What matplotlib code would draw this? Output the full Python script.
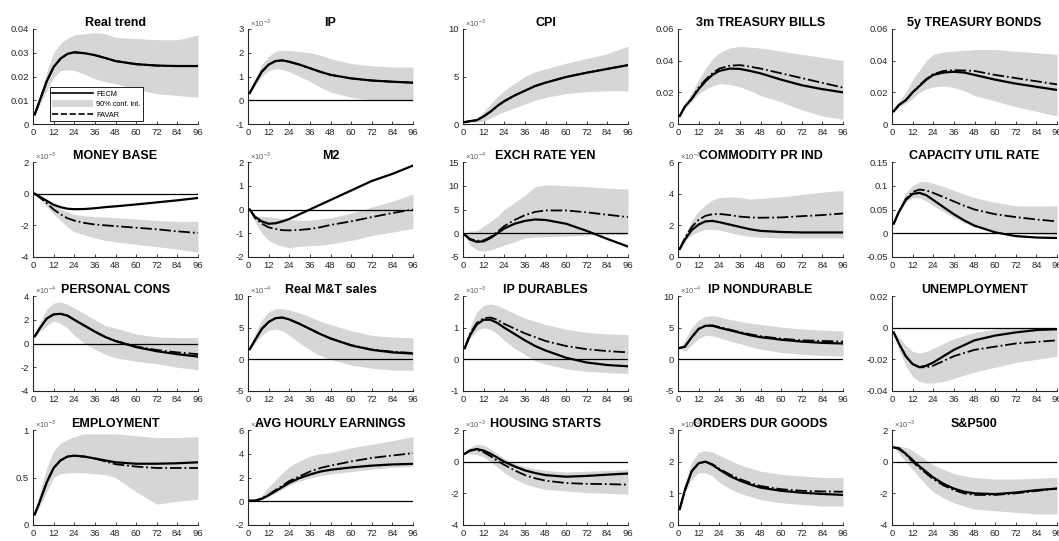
import matplotlib
matplotlib.use("Agg")
import matplotlib.pyplot as plt
from matplotlib.patches import Patch
from matplotlib.lines import Line2D

plt.rcParams["font.family"] = ["Liberation Sans", "DejaVu Sans"]
plt.rcParams["mathtext.fontset"] = "custom"
plt.rcParams["mathtext.rm"] = "Liberation Sans"
plt.rcParams["axes.unicode_minus"] = False

# --------------------------------------------------
# Data (horizon in months, responses)
# --------------------------------------------------

h = [1, 4, 8, 12, 16, 20, 24, 30, 36, 42, 48, 60, 72, 84, 96]

rt_fecm = [0.004, 0.010, 0.018, 0.024, 0.0275, 0.0295, 0.0302, 0.0298, 0.029, 0.0278, 0.0265, 0.0252, 0.0246, 0.0244, 0.0244]
rt_favar = [0.004, 0.010, 0.018, 0.024, 0.0275, 0.0295, 0.0302, 0.0298, 0.029, 0.0278, 0.0265, 0.0252, 0.0246, 0.0244, 0.0244]
rt_lo = [0.004, 0.008, 0.014, 0.0195, 0.0225, 0.0228, 0.0226, 0.021, 0.019, 0.0178, 0.017, 0.0145, 0.0128, 0.012, 0.0113]
rt_hi = [0.004, 0.012, 0.022, 0.030, 0.034, 0.036, 0.0375, 0.038, 0.0385, 0.038, 0.0365, 0.036, 0.0355, 0.0355, 0.0375]

ip_fecm = [0.3, 0.7, 1.2, 1.5, 1.65, 1.68, 1.62, 1.5, 1.35, 1.2, 1.07, 0.92, 0.83, 0.78, 0.74]
ip_favar = [0.3, 0.7, 1.2, 1.5, 1.65, 1.68, 1.62, 1.5, 1.35, 1.2, 1.07, 0.92, 0.83, 0.78, 0.74]
ip_lo = [0.3, 0.6, 1.0, 1.25, 1.32, 1.3, 1.2, 1.0, 0.8, 0.55, 0.35, 0.12, 0.02, 0.0, 0.0]
ip_hi = [0.3, 0.9, 1.5, 1.85, 2.05, 2.1, 2.1, 2.05, 2.0, 1.9, 1.75, 1.55, 1.45, 1.4, 1.4]

cpi_fecm = [0.2, 0.3, 0.4, 0.8, 1.3, 1.9, 2.4, 3.0, 3.5, 4.0, 4.35, 4.95, 5.4, 5.8, 6.2]
cpi_favar = [0.2, 0.3, 0.4, 0.8, 1.3, 1.9, 2.4, 3.0, 3.5, 4.0, 4.35, 4.95, 5.4, 5.8, 6.2]
cpi_lo = [0.2, 0.2, 0.2, 0.3, 0.6, 1.0, 1.3, 1.7, 2.1, 2.5, 2.8, 3.2, 3.4, 3.5, 3.5]
cpi_hi = [0.2, 0.3, 0.6, 1.3, 2.1, 2.9, 3.5, 4.3, 5.0, 5.5, 5.8, 6.4, 6.9, 7.4, 8.2]

tb_fecm = [0.005, 0.011, 0.016, 0.022, 0.027, 0.031, 0.0335, 0.035, 0.0348, 0.0335, 0.032, 0.028, 0.0245, 0.022, 0.020]
tb_favar = [0.005, 0.011, 0.016, 0.023, 0.028, 0.032, 0.035, 0.0368, 0.0372, 0.0362, 0.035, 0.032, 0.029, 0.026, 0.023]
tb_lo = [0.005, 0.010, 0.014, 0.019, 0.022, 0.024, 0.0255, 0.025, 0.0235, 0.021, 0.018, 0.014, 0.009, 0.005, 0.003]
tb_hi = [0.005, 0.012, 0.020, 0.028, 0.035, 0.041, 0.045, 0.048, 0.049, 0.0485, 0.048, 0.046, 0.044, 0.042, 0.040]

bd_fecm = [0.008, 0.012, 0.015, 0.020, 0.024, 0.028, 0.031, 0.0325, 0.033, 0.0325, 0.031, 0.028, 0.0255, 0.0235, 0.0215]
bd_favar = [0.008, 0.012, 0.015, 0.020, 0.0245, 0.0285, 0.0315, 0.0335, 0.034, 0.0338, 0.0335, 0.031, 0.029, 0.027, 0.025]
bd_lo = [0.008, 0.011, 0.013, 0.016, 0.020, 0.022, 0.0235, 0.024, 0.023, 0.021, 0.018, 0.0145, 0.011, 0.008, 0.005]
bd_hi = [0.008, 0.014, 0.020, 0.028, 0.034, 0.040, 0.044, 0.0455, 0.046, 0.0465, 0.047, 0.047, 0.046, 0.045, 0.044]

mb_fecm = [0.0, -0.2, -0.45, -0.7, -0.85, -0.95, -0.98, -0.97, -0.92, -0.85, -0.8, -0.68, -0.55, -0.42, -0.27]
mb_favar = [0.0, -0.25, -0.6, -1.0, -1.3, -1.55, -1.7, -1.85, -1.95, -2.0, -2.05, -2.15, -2.25, -2.38, -2.48]
mb_lo = [0.0, -0.3, -0.8, -1.3, -1.7, -2.1, -2.4, -2.6, -2.8, -2.95, -3.05, -3.2, -3.35, -3.5, -3.7]
mb_hi = [0.0, -0.15, -0.4, -0.7, -0.95, -1.15, -1.3, -1.4, -1.45, -1.48, -1.52, -1.6, -1.7, -1.75, -1.75]

m2_fecm = [0.0, -0.3, -0.5, -0.6, -0.58, -0.5, -0.4, -0.2, 0.0, 0.2, 0.4, 0.8, 1.2, 1.5, 1.85]
m2_favar = [0.0, -0.35, -0.6, -0.75, -0.82, -0.87, -0.88, -0.86, -0.82, -0.75, -0.65, -0.5, -0.32, -0.15, 0.0]
m2_lo = [0.0, -0.5, -1.0, -1.3, -1.45, -1.55, -1.6, -1.55, -1.52, -1.5, -1.45, -1.3, -1.1, -0.95, -0.8]
m2_hi = [0.0, -0.3, -0.3, -0.3, -0.35, -0.38, -0.42, -0.45, -0.45, -0.4, -0.35, -0.15, 0.1, 0.35, 0.65]

yen_fecm = [-0.3, -1.3, -1.8, -1.7, -1.0, 0.0, 1.0, 2.0, 2.6, 2.9, 2.8, 2.0, 0.5, -1.2, -2.8]
yen_favar = [-0.3, -1.2, -1.6, -1.5, -0.8, 0.3, 1.5, 2.8, 3.8, 4.5, 4.8, 4.8, 4.4, 3.9, 3.4]
yen_lo = [-0.3, -2.5, -3.5, -3.8, -3.5, -3.0, -2.5, -1.8, -1.0, -0.8, -0.7, -0.6, -0.4, -0.3, -0.3]
yen_hi = [-0.3, 0.5, 0.5, 1.5, 2.5, 3.5, 5.0, 6.5, 8.0, 9.8, 10.2, 10.0, 9.8, 9.5, 9.3]

com_fecm = [0.5, 1.1, 1.7, 2.05, 2.25, 2.28, 2.2, 2.05, 1.9, 1.75, 1.65, 1.58, 1.55, 1.55, 1.55]
com_favar = [0.5, 1.2, 1.9, 2.35, 2.6, 2.7, 2.72, 2.65, 2.55, 2.5, 2.48, 2.5, 2.58, 2.65, 2.75]
com_lo = [0.5, 1.0, 1.4, 1.6, 1.75, 1.75, 1.7, 1.55, 1.4, 1.3, 1.25, 1.2, 1.2, 1.2, 1.2]
com_hi = [0.5, 1.4, 2.3, 2.9, 3.3, 3.6, 3.75, 3.8, 3.75, 3.65, 3.7, 3.8, 3.95, 4.1, 4.2]

cu_fecm = [0.02, 0.045, 0.07, 0.083, 0.085, 0.08, 0.07, 0.055, 0.04, 0.027, 0.016, 0.002, -0.006, -0.009, -0.01]
cu_favar = [0.02, 0.045, 0.072, 0.087, 0.092, 0.09, 0.085, 0.076, 0.067, 0.058, 0.05, 0.04, 0.034, 0.029, 0.025]
cu_lo = [0.02, 0.042, 0.065, 0.075, 0.075, 0.068, 0.058, 0.045, 0.033, 0.022, 0.013, 0.005, 0.001, -0.002, -0.005]
cu_hi = [0.02, 0.05, 0.085, 0.1, 0.108, 0.109, 0.105, 0.098, 0.09, 0.082, 0.075, 0.065, 0.058, 0.057, 0.058]

pc_fecm = [0.6, 1.3, 2.1, 2.45, 2.5, 2.35, 2.0, 1.5, 1.0, 0.55, 0.2, -0.3, -0.65, -0.9, -1.1]
pc_favar = [0.6, 1.3, 2.1, 2.45, 2.5, 2.35, 2.0, 1.5, 1.0, 0.55, 0.22, -0.25, -0.55, -0.75, -0.9]
pc_lo = [0.6, 1.0, 1.5, 1.9, 1.7, 1.3, 0.7, 0.0, -0.5, -0.9, -1.2, -1.5, -1.7, -2.0, -2.2]
pc_hi = [0.6, 1.8, 2.9, 3.4, 3.5, 3.3, 3.0, 2.5, 2.0, 1.5, 1.3, 0.8, 0.55, 0.5, 0.5]

mt_fecm = [1.6, 3.0, 4.8, 5.9, 6.5, 6.6, 6.3, 5.6, 4.8, 4.0, 3.3, 2.2, 1.5, 1.1, 0.9]
mt_favar = [1.6, 3.0, 4.8, 5.9, 6.5, 6.6, 6.3, 5.6, 4.8, 4.0, 3.3, 2.25, 1.55, 1.2, 1.0]
mt_lo = [1.6, 2.5, 3.8, 4.6, 4.8, 4.5, 3.8, 2.6, 1.5, 0.6, 0.0, -0.9, -1.4, -1.7, -1.7]
mt_hi = [1.6, 4.0, 6.2, 7.5, 8.0, 8.0, 7.8, 7.3, 6.7, 6.0, 5.5, 4.5, 3.8, 3.5, 3.4]

ipd_fecm = [0.35, 0.75, 1.1, 1.25, 1.25, 1.15, 1.0, 0.8, 0.6, 0.42, 0.28, 0.05, -0.1, -0.18, -0.22]
ipd_favar = [0.35, 0.8, 1.15, 1.3, 1.32, 1.25, 1.12, 0.97, 0.82, 0.7, 0.58, 0.42, 0.32, 0.26, 0.22]
ipd_lo = [0.35, 0.65, 0.9, 1.0, 0.95, 0.8, 0.6, 0.35, 0.15, -0.05, -0.15, -0.3, -0.38, -0.42, -0.45]
ipd_hi = [0.35, 1.0, 1.5, 1.7, 1.75, 1.7, 1.6, 1.45, 1.3, 1.2, 1.1, 0.95, 0.85, 0.8, 0.78]

ipn_fecm = [1.8, 2.0, 3.5, 4.8, 5.3, 5.3, 5.0, 4.6, 4.2, 3.8, 3.5, 3.1, 2.8, 2.6, 2.5]
ipn_favar = [1.8, 2.0, 3.5, 4.8, 5.3, 5.35, 5.1, 4.7, 4.3, 3.95, 3.65, 3.25, 3.0, 2.9, 2.8]
ipn_lo = [1.8, 1.3, 2.3, 3.3, 3.8, 3.7, 3.4, 2.9, 2.5, 2.0, 1.6, 1.1, 0.8, 0.6, 0.5]
ipn_hi = [1.8, 3.0, 5.0, 6.2, 6.8, 6.9, 6.7, 6.3, 6.0, 5.7, 5.5, 5.1, 4.8, 4.6, 4.5]

un_fecm = [-0.003, -0.01, -0.018, -0.023, -0.025, -0.024, -0.022, -0.018, -0.014, -0.011, -0.008, -0.005, -0.003, -0.0015, -0.001]
un_favar = [-0.003, -0.01, -0.018, -0.023, -0.025, -0.025, -0.024, -0.021, -0.018, -0.016, -0.014, -0.012, -0.010, -0.009, -0.008]
un_lo = [-0.003, -0.014, -0.024, -0.031, -0.034, -0.035, -0.035, -0.034, -0.032, -0.030, -0.028, -0.025, -0.022, -0.020, -0.018]
un_hi = [-0.003, -0.006, -0.011, -0.015, -0.016, -0.015, -0.013, -0.010, -0.007, -0.005, -0.003, -0.001, 0.0, 0.0, 0.0]

em_fecm = [0.11, 0.25, 0.45, 0.6, 0.68, 0.72, 0.73, 0.72, 0.70, 0.68, 0.66, 0.645, 0.645, 0.65, 0.66]
em_favar = [0.11, 0.25, 0.45, 0.6, 0.68, 0.72, 0.73, 0.72, 0.70, 0.67, 0.64, 0.615, 0.60, 0.60, 0.60]
em_lo = [0.11, 0.2, 0.35, 0.5, 0.54, 0.55, 0.55, 0.55, 0.54, 0.53, 0.50, 0.35, 0.22, 0.25, 0.27]
em_hi = [0.11, 0.35, 0.6, 0.78, 0.86, 0.9, 0.93, 0.96, 0.96, 0.96, 0.96, 0.94, 0.92, 0.92, 0.93]

ahe_fecm = [0.05, 0.05, 0.2, 0.5, 0.85, 1.2, 1.55, 1.95, 2.25, 2.5, 2.65, 2.85, 3.0, 3.1, 3.15]
ahe_favar = [0.05, 0.05, 0.25, 0.55, 0.95, 1.3, 1.7, 2.1, 2.5, 2.8, 3.0, 3.35, 3.65, 3.85, 4.05]
ahe_lo = [0.05, 0.0, 0.15, 0.4, 0.7, 1.0, 1.35, 1.7, 1.95, 2.15, 2.3, 2.5, 2.7, 2.85, 2.95]
ahe_hi = [0.05, 0.1, 0.5, 1.2, 1.8, 2.4, 2.9, 3.4, 3.8, 4.0, 4.1, 4.5, 4.8, 5.1, 5.45]

hs_fecm = [0.5, 0.7, 0.8, 0.7, 0.5, 0.25, 0.0, -0.3, -0.55, -0.72, -0.85, -0.95, -0.9, -0.82, -0.75]
hs_favar = [0.5, 0.7, 0.75, 0.6, 0.35, 0.05, -0.2, -0.55, -0.85, -1.05, -1.2, -1.35, -1.4, -1.42, -1.45]
hs_lo = [0.5, 0.5, 0.45, 0.3, 0.0, -0.35, -0.7, -1.1, -1.4, -1.6, -1.75, -1.85, -1.95, -2.0, -2.05]
hs_hi = [0.5, 0.9, 1.1, 1.05, 0.8, 0.5, 0.2, -0.1, -0.3, -0.45, -0.55, -0.65, -0.6, -0.55, -0.5]

od_fecm = [0.5, 1.1, 1.7, 1.95, 2.0, 1.9, 1.75, 1.55, 1.4, 1.28, 1.18, 1.08, 1.02, 0.98, 0.95]
od_favar = [0.5, 1.1, 1.7, 1.95, 2.0, 1.92, 1.78, 1.6, 1.45, 1.33, 1.23, 1.13, 1.08, 1.06, 1.05]
od_lo = [0.5, 1.0, 1.45, 1.65, 1.65, 1.55, 1.35, 1.15, 1.0, 0.9, 0.8, 0.7, 0.65, 0.6, 0.6]
od_hi = [0.5, 1.3, 2.0, 2.3, 2.35, 2.3, 2.2, 2.05, 1.9, 1.8, 1.7, 1.6, 1.55, 1.5, 1.5]

sp_fecm = [0.9, 0.85, 0.5, 0.1, -0.3, -0.65, -1.0, -1.4, -1.7, -1.9, -2.0, -2.05, -1.95, -1.8, -1.7]
sp_favar = [0.9, 0.8, 0.45, 0.0, -0.4, -0.75, -1.1, -1.5, -1.8, -2.0, -2.1, -2.1, -2.0, -1.85, -1.7]
sp_lo = [0.9, 0.5, 0.0, -0.5, -1.0, -1.5, -1.9, -2.3, -2.6, -2.8, -3.0, -3.1, -3.2, -3.3, -3.3]
sp_hi = [0.9, 1.0, 0.9, 0.7, 0.4, 0.1, -0.2, -0.5, -0.75, -0.9, -1.0, -1.1, -1.1, -1.05, -1.0]

titles = [
    "Real trend", "IP", "CPI", "3m TREASURY BILLS", "5y TREASURY BONDS",
    "MONEY BASE", "M2", "EXCH RATE YEN", "COMMODITY PR IND", "CAPACITY UTIL RATE",
    "PERSONAL CONS", "Real M&T sales", "IP DURABLES", "IP NONDURABLE", "UNEMPLOYMENT",
    "EMPLOYMENT", "AVG HOURLY EARNINGS", "HOUSING STARTS", "ORDERS DUR GOODS", "S&P500",
]

series = [
    (rt_fecm, rt_favar, rt_lo, rt_hi), (ip_fecm, ip_favar, ip_lo, ip_hi),
    (cpi_fecm, cpi_favar, cpi_lo, cpi_hi), (tb_fecm, tb_favar, tb_lo, tb_hi),
    (bd_fecm, bd_favar, bd_lo, bd_hi), (mb_fecm, mb_favar, mb_lo, mb_hi),
    (m2_fecm, m2_favar, m2_lo, m2_hi), (yen_fecm, yen_favar, yen_lo, yen_hi),
    (com_fecm, com_favar, com_lo, com_hi), (cu_fecm, cu_favar, cu_lo, cu_hi),
    (pc_fecm, pc_favar, pc_lo, pc_hi), (mt_fecm, mt_favar, mt_lo, mt_hi),
    (ipd_fecm, ipd_favar, ipd_lo, ipd_hi), (ipn_fecm, ipn_favar, ipn_lo, ipn_hi),
    (un_fecm, un_favar, un_lo, un_hi), (em_fecm, em_favar, em_lo, em_hi),
    (ahe_fecm, ahe_favar, ahe_lo, ahe_hi), (hs_fecm, hs_favar, hs_lo, hs_hi),
    (od_fecm, od_favar, od_lo, od_hi), (sp_fecm, sp_favar, sp_lo, sp_hi),
]

# y ticks per panel and the scale exponent shown above the axis
yticks = [
    [0, 0.01, 0.02, 0.03, 0.04], [-1, 0, 1, 2, 3], [0, 5, 10], [0, 0.02, 0.04, 0.06], [0, 0.02, 0.04, 0.06],
    [-4, -2, 0, 2], [-2, -1, 0, 1, 2], [-5, 0, 5, 10, 15], [0, 2, 4, 6], [-0.05, 0, 0.05, 0.1, 0.15],
    [-4, -2, 0, 2, 4], [-5, 0, 5, 10], [-1, 0, 1, 2], [-5, 0, 5, 10], [-0.04, -0.02, 0, 0.02],
    [0, 0.5, 1], [-2, 0, 2, 4, 6], [-4, -2, 0, 2], [0, 1, 2, 3], [-4, -2, 0, 2],
]
ytick_labels = [
    ["0", "0.01", "0.02", "0.03", "0.04"], None, None, ["0", "0.02", "0.04", "0.06"], ["0", "0.02", "0.04", "0.06"],
    None, None, None, None, ["-0.05", "0", "0.05", "0.1", "0.15"],
    None, None, None, None, ["-0.04", "-0.02", "0", "0.02"],
    ["0", "0.5", "1"], None, None, None, None,
]
exponents = [
    None, -3, -3, None, None,
    -3, -3, -4, -3, None,
    -4, -4, -3, -4, None,
    -3, -4, -3, -3, -3,
]
zero_line = [
    False, True, False, False, False,
    True, True, True, False, True,
    True, True, True, True, True,
    False, True, True, False, True,
]

# --------------------------------------------------
# Layout (pixel positions of the MATLAB-style grid)
# --------------------------------------------------

W, H = 1059, 541
col_left = [33, 248, 463, 678, 892]
row_top = [29, 162, 296, 430]
ax_w, ax_h = 165, 95

axis_col = "0.15"
band_col = "0.84"

fig = plt.figure(figsize=(W / 100, H / 100), dpi=100)

for k in range(20):
    r, c = divmod(k, 5)
    ax = fig.add_axes([col_left[c] / W, 1 - (row_top[r] + ax_h) / H, ax_w / W, ax_h / H])
    fecm, favar, lo, hi = series[k]

    ax.fill_between(h, lo, hi, color=band_col, linewidth=0, zorder=1)
    if zero_line[k]:
        ax.axhline(0, color="black", linewidth=0.9, zorder=2)
    ax.plot(h, favar, color="black", linestyle="-.", linewidth=1.3, zorder=3)
    ax.plot(h, fecm, color="black", linestyle="-", linewidth=1.6, zorder=4)

    ax.set_xlim(0, 96)
    ax.set_xticks(range(0, 97, 12))
    ax.set_ylim(yticks[k][0], yticks[k][-1])
    ax.set_yticks(yticks[k])
    if ytick_labels[k] is not None:
        ax.set_yticklabels(ytick_labels[k])

    for side in ["top", "right"]:
        ax.spines[side].set_visible(False)
    for side in ["left", "bottom"]:
        ax.spines[side].set_color(axis_col)
        ax.spines[side].set_linewidth(0.8)
    ax.tick_params(direction="in", length=2.5, width=0.6, labelsize=6.8,
                   colors=axis_col, pad=3)
    ax.set_title(titles[k], fontsize=9, fontweight="bold", pad=2.5)

    if exponents[k] is not None:
        ax.text(0.01, 1.0, r"$\times10^{%d}$" % exponents[k], transform=ax.transAxes,
                ha="left", va="bottom", fontsize=5.5, color="0.35")

    if k == 0:
        handles = [
            Line2D([0], [0], color="black", linewidth=1.2),
            Patch(facecolor=band_col, edgecolor="none"),
            Line2D([0], [0], color="black", linestyle="--", linewidth=1.2),
        ]
        leg = ax.legend(handles, ["FECM", "90% conf. int.", "FAVAR"], loc="lower left",
                        bbox_to_anchor=(0.1, 0.03), borderaxespad=0, fontsize=5.3,
                        fancybox=False, framealpha=1, edgecolor="black",
                        handlelength=5.5, handleheight=1.0, borderpad=0.35,
                        labelspacing=0.35, handletextpad=0.5)
        leg.get_frame().set_linewidth(0.6)

fig.savefig("out.png", dpi=100)
